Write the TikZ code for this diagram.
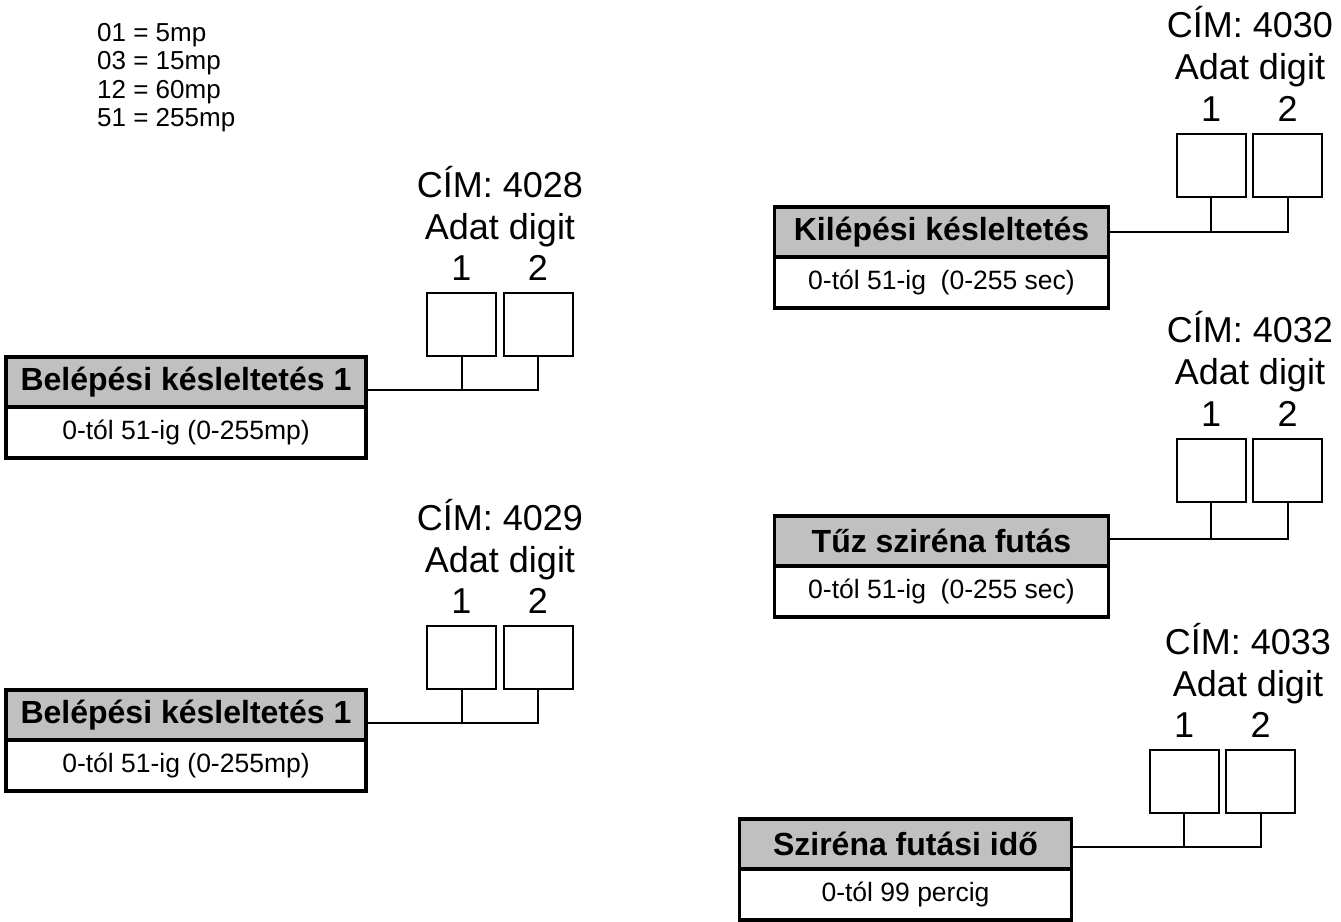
\documentclass[tikz,border=0pt]{standalone}
\usepackage{fontspec}
\setmainfont{Liberation Sans}
\usetikzlibrary{positioning}
\definecolor{szurke}{RGB}{192,192,192}
\tikzset{
  fejlec/.style={draw, line width=3.5pt, fill=szurke, inner sep=0pt, outer sep=0pt,
    minimum height=50pt, font=\fontsize{32}{38}\selectfont\bfseries},
  alja/.style={draw, line width=3.5pt, fill=white, inner sep=0pt, outer sep=0pt,
    minimum height=51pt, font=\fontsize{26.5}{32}\selectfont},
  digit/.style={draw, line width=2pt, inner sep=0pt, outer sep=0pt,
    minimum width=69pt, minimum height=63pt},
  cim/.style={font=\fontsize{36}{42}\selectfont, inner sep=0pt, anchor=base},
  szam/.style={font=\fontsize{36}{42}\selectfont, inner sep=0pt},
  vonal/.style={line width=2pt},
}
\begin{document}
\begin{tikzpicture}[x=1pt,y=-1pt]
\useasboundingbox (0,0) rectangle (1341,921);

% jelmagyarazat
\node[anchor=north west, align=left, inner sep=0pt, font=\fontsize{26}{28.5}\selectfont] (jel) at (97,23)
  {01 = 5mp\\03 = 15mp\\12 = 60mp\\51 = 255mp};

% 4028
\node[fejlec, minimum width=360pt] (a_f) at (186,382) {Belépési késleltetés 1};
\node[alja, minimum width=360pt, below=0pt of a_f] (a_a) {0-tól 51-ig (0-255mp)};
\node[digit] (a_d1) at (461.5,324.5) {};
\node[digit, right=7.5pt of a_d1] (a_d2) {};
\node[szam, above=12pt of a_d1] (a_n1) {1};
\node[szam, above=12pt of a_d2] (a_n2) {2};
\node[cim] (a_cim) at (500,197) {CÍM: 4028};
\node[cim] (a_adat) at (500,239) {Adat digit};
\coordinate (a_c) at ([yshift=-8pt]a_f.east);
\draw[vonal] (a_c) -| (a_d2.south);
\draw[vonal] (a_d1.south) -- (a_d1.south |- a_c);

% 4029
\node[fejlec, minimum width=360pt] (b_f) at (186,715) {Belépési késleltetés 1};
\node[alja, minimum width=360pt, below=0pt of b_f] (b_a) {0-tól 51-ig (0-255mp)};
\node[digit] (b_d1) at (461.5,657.5) {};
\node[digit, right=7.5pt of b_d1] (b_d2) {};
\node[szam, above=12pt of b_d1] (b_n1) {1};
\node[szam, above=12pt of b_d2] (b_n2) {2};
\node[cim] (b_cim) at (500,530) {CÍM: 4029};
\node[cim] (b_adat) at (500,572) {Adat digit};
\coordinate (b_c) at ([yshift=-8pt]b_f.east);
\draw[vonal] (b_c) -| (b_d2.south);
\draw[vonal] (b_d1.south) -- (b_d1.south |- b_c);

% 4030
\node[fejlec, minimum width=334pt] (c_f) at (941.5,232) {Kilépési késleltetés};
\node[alja, minimum width=334pt, below=0pt of c_f] (c_a) {0-tól 51-ig\ \ (0-255 sec)};
\node[digit] (c_d1) at (1211,165) {};
\node[digit, right=7.5pt of c_d1] (c_d2) {};
\node[szam, above=12pt of c_d1] (c_n1) {1};
\node[szam, above=12pt of c_d2] (c_n2) {2};
\node[cim] (c_cim) at (1250,37.5) {CÍM: 4030};
\node[cim] (c_adat) at (1250,79.5) {Adat digit};
\coordinate (c_c) at (c_f.east);
\draw[vonal] (c_c) -| (c_d2.south);
\draw[vonal] (c_d1.south) -- (c_d1.south |- c_c);

% 4032
\node[fejlec, minimum width=334pt] (d_f) at (941.5,541) {Tűz sziréna futás};
\node[alja, minimum width=334pt, below=0pt of d_f] (d_a) {0-tól 51-ig\ \ (0-255 sec)};
\node[digit] (d_d1) at (1211,470) {};
\node[digit, right=7.5pt of d_d1] (d_d2) {};
\node[szam, above=12pt of d_d1] (d_n1) {1};
\node[szam, above=12pt of d_d2] (d_n2) {2};
\node[cim] (d_cim) at (1250,342.5) {CÍM: 4032};
\node[cim] (d_adat) at (1250,384.5) {Adat digit};
\coordinate (d_c) at ([yshift=2pt]d_f.east);
\draw[vonal] (d_c) -| (d_d2.south);
\draw[vonal] (d_d1.south) -- (d_d1.south |- d_c);

% 4033
\node[fejlec, minimum width=332pt] (e_f) at (905.5,844) {Sziréna futási idő};
\node[alja, minimum width=332pt, below=0pt of e_f] (e_a) {0-tól 99 percig};
\node[digit] (e_d1) at (1184,781.5) {};
\node[digit, right=7.5pt of e_d1] (e_d2) {};
\node[szam, above=12pt of e_d1] (e_n1) {1};
\node[szam, above=12pt of e_d2] (e_n2) {2};
\node[cim] (e_cim) at (1248,654) {CÍM: 4033};
\node[cim] (e_adat) at (1248,696) {Adat digit};
\coordinate (e_c) at ([yshift=-3pt]e_f.east);
\draw[vonal] (e_c) -| (e_d2.south);
\draw[vonal] (e_d1.south) -- (e_d1.south |- e_c);
\end{tikzpicture}
\end{document}
